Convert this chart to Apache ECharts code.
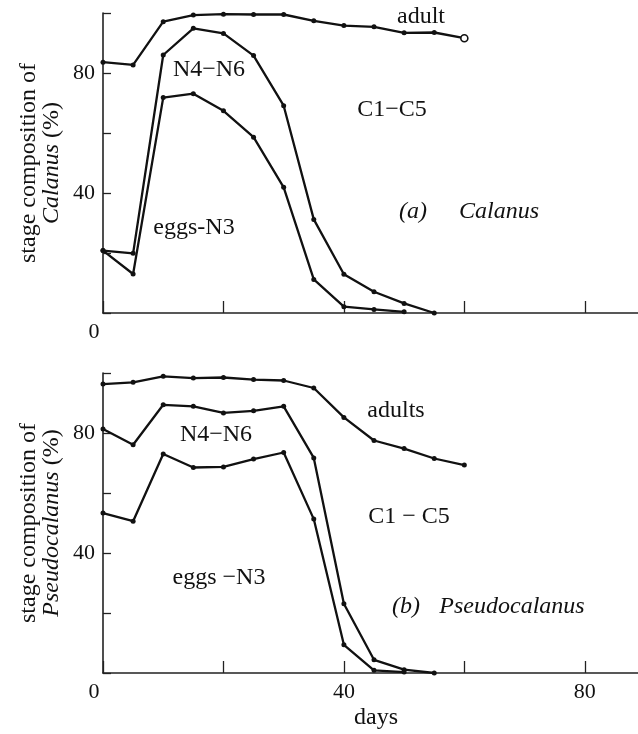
<!DOCTYPE html>
<html>
<head>
<meta charset="utf-8">
<script src="https://cdn.jsdelivr.net/npm/echarts@6/dist/echarts.min.js"></script>
<style>html,body{margin:0;padding:0;background:#fff}#c{width:638px;height:734px}</style>
</head>
<body>
<div id="c"></div>
<script>
// ---- data (cumulative stage composition, %) ----
const days = [0, 5, 10, 15, 20, 25, 30, 35, 40, 45, 50, 55, 60];
// (a) Calanus
const calAdult = [83.6, 82.7, 97.1, 99.3, 99.6, 99.5, 99.5, 97.4, 95.8, 95.4, 93.4, 93.5, 91.6];
const calN4N6  = [20.8, 19.9, 86.0, 94.9, 93.2, 85.8, 69.1, 31.2, 12.9, 7.1, 3.2, 0];
const calEggs  = [20.8, 13.0, 71.8, 73.1, 67.4, 58.6, 41.9, 11.2, 2.1, 1.2, 0.4];
// (b) Pseudocalanus
const psAdult = [96.3, 96.9, 98.9, 98.3, 98.5, 97.8, 97.5, 95.0, 85.2, 77.5, 74.8, 71.5, 69.3];
const psN4N6  = [81.3, 76.1, 89.4, 88.9, 86.7, 87.4, 88.9, 71.7, 23.1, 4.4, 1.1, 0];
const psEggs  = [53.3, 50.6, 73.0, 68.5, 68.7, 71.3, 73.5, 51.3, 9.4, 0.9, 0.3];
const yTickLabels = [40, 80];
const xTickLabelsTop = [0];
const xTickLabelsBottom = [0, 40, 80];

const FONT = '"Liberation Serif", "DejaVu Serif", serif';
const INK = '#111';
const TS = 24; // text size for words

function pairs(vals, hollowLast) {
  return vals.map((v, i) => {
    const d = { value: [days[i], v] };
    if (hollowLast && i === vals.length - 1) {
      d.symbolSize = 7;
      d.itemStyle = { color: '#fff', borderColor: INK, borderWidth: 1.6 };
    }
    return d;
  });
}
function lineSeries(vals, idx, hollowLast) {
  return {
    type: 'line', xAxisIndex: idx, yAxisIndex: idx,
    data: pairs(vals, hollowLast),
    symbol: 'circle', symbolSize: 5, showSymbol: true,
    lineStyle: { color: INK, width: 2.3 },
    itemStyle: { color: INK },
    animation: false, silent: true, z: 3
  };
}
function xAxis(idx, labels) {
  return {
    type: 'value', gridIndex: idx, min: 0, max: 90, interval: 20,
    axisLine: { show: true, onZero: false, lineStyle: { color: '#222', width: 1.6 } },
    axisTick: { show: true, inside: true, length: 12, lineStyle: { color: '#222', width: 1.3 } },
    splitLine: { show: false },
    axisLabel: {
      show: true, margin: 8, fontFamily: FONT, fontSize: 22, color: INK,
      showMaxLabel: false,
      formatter: v => labels.indexOf(v) < 0 ? '' : (v === 0 ? '{o|0}' : String(v)),
      rich: { o: { fontFamily: FONT, fontSize: 22, color: INK, padding: [0, 18, 0, 0] } }
    }
  };
}
function yAxis(idx, genus) {
  return {
    type: 'value', gridIndex: idx, min: 0, max: 100, interval: 20,
    name: 'stage composition of\n{i|' + genus + '} (%)',
    nameLocation: 'middle', nameRotate: 90, nameGap: 40, nameMoveOverlap: false,
    nameTextStyle: {
      fontFamily: FONT, fontSize: TS, color: INK, lineHeight: 23,
      rich: { i: { fontFamily: FONT, fontSize: TS, fontStyle: 'italic', color: INK, lineHeight: 23 } }
    },
    axisLine: { show: true, onZero: false, lineStyle: { color: '#222', width: 1.6 } },
    axisTick: { show: true, inside: true, length: 8, lineStyle: { color: '#222', width: 1.3 } },
    splitLine: { show: false },
    axisLabel: {
      margin: 8, fontFamily: FONT, fontSize: 22, color: INK,
      formatter: v => yTickLabels.indexOf(v) < 0 ? '' : String(v)
    }
  };
}
function txt(text, x, y, italic) {
  return {
    type: 'text', x: x, y: y, silent: true,
    style: {
      text: text, fill: INK, align: 'center', verticalAlign: 'middle',
      font: (italic ? 'italic ' : '') + TS + 'px ' + FONT
    }
  };
}

const chart = echarts.init(document.getElementById('c'), null, { renderer: 'canvas' });
chart.setOption({
  backgroundColor: '#fff',
  animation: false,
  grid: [
    { left: 103, top: 13, width: 542, height: 300, containLabel: false, outerBoundsMode: 'none' },
    { left: 103, top: 373, width: 542, height: 300, containLabel: false, outerBoundsMode: 'none' }
  ],
  xAxis: [
    xAxis(0, xTickLabelsTop),
    Object.assign(xAxis(1, xTickLabelsBottom), {
      name: 'days', nameLocation: 'middle', nameGap: 33,
      nameTextStyle: { fontFamily: FONT, fontSize: TS, color: INK, padding: [0, 0, 0, 4] }
    })
  ],
  yAxis: [yAxis(0, 'Calanus'), yAxis(1, 'Pseudocalanus')],
  series: [
    lineSeries(calAdult, 0, true),
    lineSeries(calN4N6, 0, false),
    lineSeries(calEggs, 0, false),
    lineSeries(psAdult, 1, false),
    lineSeries(psN4N6, 1, false),
    lineSeries(psEggs, 1, false)
  ],
  graphic: [
    txt('adult', 421, 17),
    txt('N4\u2212N6', 209, 70),
    txt('C1\u2212C5', 392, 110),
    txt('(a)', 413, 212, true),
    txt('Calanus', 499, 212, true),
    txt('eggs-N3', 194, 228),
    txt('adults', 396, 411),
    txt('N4\u2212N6', 216, 435),
    txt('C1 \u2212 C5', 409, 517),
    txt('(b)', 406, 607, true),
    txt('Pseudocalanus', 512, 607, true),
    txt('eggs \u2212N3', 219, 578)
  ]
});
</script>
</body>
</html>
